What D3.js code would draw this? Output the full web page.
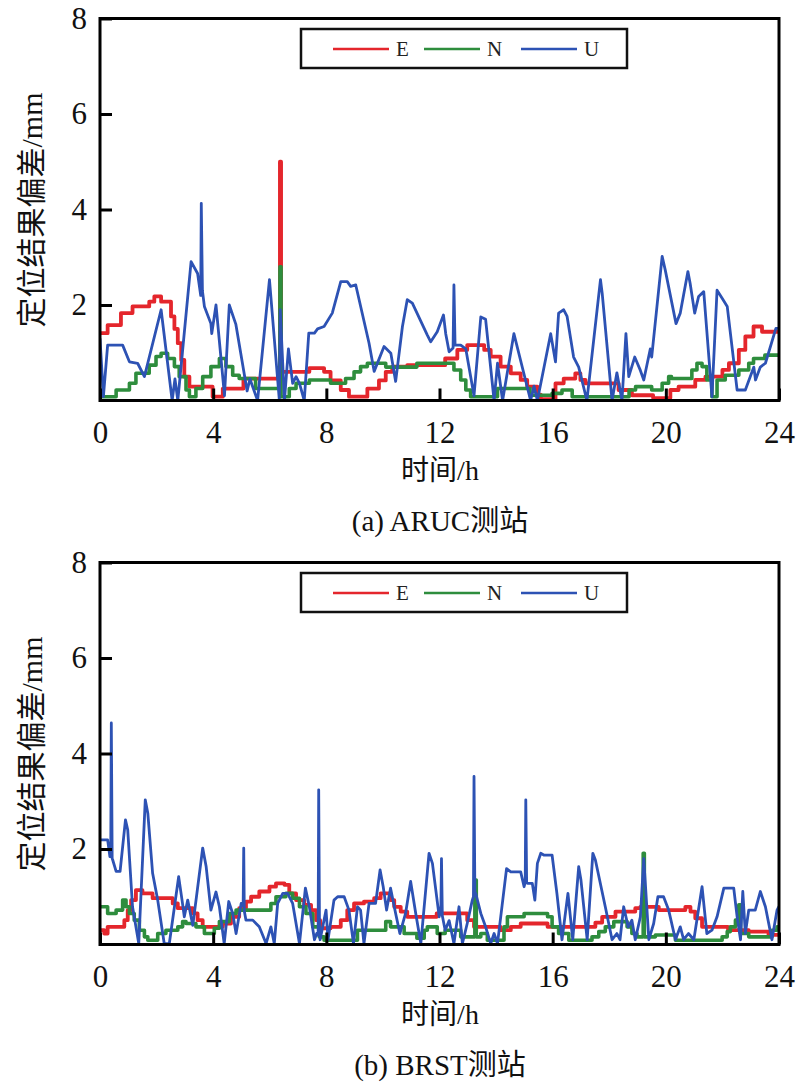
<!DOCTYPE html>
<html><head><meta charset="utf-8">
<script src="https://cdn.jsdelivr.net/npm/d3@7"></script>
<style>body{margin:0;background:#fff}svg{display:block}</style>
</head><body>
<script>
const seriesNames = ["E","N","U"];
const xTicks = [0,4,8,12,16,20,24];
const yTicks = [2,4,6,8];
const panelTitles = ["(a) ARUC测站","(b) BRST测站"];
const yTitle = "定位结果偏差/mm";
const xTitle = "时间/h";

// Panel (a) ARUC: [hour, mm]
const aE = [[0,1.41],[0.27,1.58],[0.74,1.83],[1.15,1.97],[1.74,2.07],[1.92,2.18],[2.16,2.07],[2.51,1.76],[2.63,1.5],[2.75,1.2],[2.87,0.85],[2.98,0.5],[3.16,0.29],[3.98,0.08],[4.34,0.25],[5.07,0.46],[6.36,5.0],[6.4,0.6],[7.4,0.68],[7.92,0.6],[8.15,0.42],[8.51,0.22],[8.8,0.08],[9.45,0.25],[9.86,0.42],[10.1,0.6],[10.33,0.71],[10.86,0.74],[12.2,0.88],[12.63,1.06],[12.98,1.16],[13.58,1.06],[13.81,0.92],[14.16,0.71],[14.52,0.57],[14.87,0.43],[15.1,0.29],[15.46,0.12],[15.58,0.03],[16.1,0.36],[16.39,0.46],[16.8,0.57],[16.98,0.43],[17.16,0.36],[18.33,0.22],[18.8,0.11],[19.55,0.05],[20.16,0.22],[20.45,0.29],[21.04,0.43],[21.4,0.5],[22.0,0.64],[22.23,0.78],[22.58,1.06],[22.81,1.34],[23.1,1.55],[23.4,1.44],[24,1.44]];
const aN = [[0,0.08],[0.57,0.22],[1.04,0.36],[1.27,0.57],[1.74,0.74],[1.98,0.92],[2.16,0.99],[2.39,0.88],[2.63,0.71],[2.8,0.5],[3.04,0.22],[3.16,0.08],[3.39,0.25],[3.63,0.5],[3.92,0.71],[4.22,0.88],[4.45,0.71],[4.69,0.53],[4.92,0.46],[5.5,0.25],[6.36,2.8],[6.4,0.08],[6.69,0.25],[6.93,0.36],[7.4,0.43],[8.15,0.36],[8.68,0.46],[8.98,0.6],[9.21,0.71],[9.45,0.78],[10.1,0.7],[11.2,0.78],[12.51,0.64],[12.75,0.43],[12.93,0.22],[13.1,0.08],[14.05,0.25],[15.2,0.11],[15.98,0.15],[16.33,0.22],[16.69,0.08],[18.7,0.22],[18.93,0.29],[19.5,0.22],[19.87,0.36],[20.1,0.5],[20.2,0.46],[20.92,0.64],[21.1,0.78],[21.28,0.71],[21.45,0.43],[21.63,0.08],[21.81,0.43],[22.1,0.53],[22.58,0.64],[22.93,0.78],[23.1,0.88],[23.5,0.95],[24,0.95]];
const aU = [[0,1.3],[0.12,0.08],[0.27,1.16],[0.8,1.16],[1.04,0.81],[1.33,0.78],[1.57,0.5],[2.16,1.9],[2.55,0],[2.65,0.45],[2.75,0],[3.22,2.91],[3.45,2.66],[3.56,2.2],[3.58,4.13],[3.62,2.3],[3.69,1.97],[3.92,1.61],[3.95,1.4],[4.1,2.0],[4.4,0.1],[4.57,2.0],[4.8,1.6],[5.2,0.2],[5.3,0.45],[5.57,0],[5.99,2.53],[6.34,0],[6.37,1.9],[6.52,0],[6.66,1.08],[6.81,0.36],[6.93,0.5],[7.05,0.36],[7.22,0],[7.38,1.41],[7.58,1.41],[7.69,1.5],[7.92,1.55],[8.21,1.83],[8.51,2.49],[8.74,2.49],[8.86,2.39],[9.04,2.42],[9.51,1.2],[9.69,0.61],[10.04,1.13],[10.28,0.99],[10.45,0.4],[10.69,1.55],[10.86,2.11],[11.04,2.04],[11.57,1.37],[11.69,1.23],[11.92,1.44],[12.14,1.79],[12.22,1.4],[12.34,1.02],[12.48,1.1],[12.51,2.42],[12.55,1.16],[12.75,1.16],[12.93,1.08],[13.22,0.1],[13.46,1.75],[13.63,1.7],[13.93,0],[14.05,0.78],[14.23,0],[14.63,1.4],[15.22,0],[15.34,0.3],[15.46,0],[15.93,1.4],[16.1,0.81],[16.21,1.83],[16.39,1.9],[16.51,1.76],[16.74,0.91],[16.92,0.7],[17.21,0],[17.69,2.53],[17.75,2.25],[18.1,0],[18.27,0.58],[18.45,0],[18.59,1.4],[18.69,0.5],[18.9,0.91],[19.1,0.63],[19.22,0.43],[19.45,1.08],[19.5,0.91],[19.87,3.02],[19.98,2.73],[20.36,1.61],[20.51,1.83],[20.78,2.7],[20.86,2.45],[21.02,1.83],[21.16,2.18],[21.34,2.28],[21.63,0.08],[21.81,2.31],[21.99,2.14],[22.17,1.97],[22.52,0.22],[22.81,0.22],[23.11,0.7],[23.17,0.43],[23.34,0.7],[23.52,0.78],[23.89,1.51],[24,1.51]];

// Panel (b) BRST: [hour, mm]
const bE = [[0,0.3],[0.15,0.23],[0.27,0.37],[0.86,0.51],[0.98,0.72],[1.1,0.93],[1.27,1.14],[1.5,1.07],[1.86,0.97],[2.57,0.86],[2.75,0.76],[3.28,0.65],[3.45,0.51],[3.63,0.37],[4.34,0.44],[4.63,0.58],[4.92,0.76],[5.16,0.9],[5.34,1.0],[5.63,1.11],[5.99,1.21],[6.22,1.28],[6.52,1.25],[6.69,1.07],[6.93,0.93],[7.22,0.83],[7.46,0.72],[7.64,0.51],[7.78,0.34],[8.15,0.37],[8.51,0.51],[8.74,0.72],[8.98,0.86],[9.33,0.9],[9.69,0.97],[9.92,1.07],[10.27,0.93],[10.4,0.79],[10.63,0.69],[10.86,0.58],[11.9,0.65],[12.98,0.51],[13.22,0.37],[14.16,0.3],[14.52,0.37],[14.87,0.44],[15.82,0.37],[17.51,0.46],[17.75,0.58],[18.22,0.69],[18.92,0.76],[19.1,0.79],[19.75,0.72],[20.69,0.79],[20.87,0.69],[21.04,0.55],[21.28,0.37],[22.2,0.3],[22.93,0.27],[23.63,0.2],[24,0.2]];
const bN = [[0,0.79],[0.27,0.65],[0.57,0.72],[0.8,0.93],[0.92,0.79],[1.04,0.65],[1.21,0.51],[1.39,0.3],[1.57,0.16],[1.69,0.09],[2.04,0.23],[2.33,0.3],[2.75,0.37],[2.92,0.48],[3.04,0.44],[3.39,0.37],[3.69,0.23],[4.04,0.34],[4.22,0.48],[4.57,0.65],[4.81,0.72],[6.04,0.86],[6.22,1.0],[6.57,1.07],[6.81,0.97],[7.05,0.79],[7.28,0.65],[7.52,0.37],[7.75,0.16],[7.92,0.09],[9.1,0.3],[10.1,0.48],[10.27,0.37],[10.75,0.23],[11.2,0.13],[11.46,0.3],[11.57,0.37],[11.92,0.23],[12.2,0.3],[12.75,0.16],[13.25,1.35],[13.3,0.16],[13.46,0.23],[13.69,0.09],[14.28,0.37],[14.4,0.58],[14.99,0.65],[15.82,0.58],[15.98,0.37],[16.21,0.23],[16.57,0.09],[17.39,0.16],[17.63,0.27],[17.86,0.37],[18.16,0.48],[18.63,0.37],[18.8,0.23],[18.98,0.16],[19.2,1.91],[19.24,0.16],[19.63,0.2],[20.34,0.09],[21.99,0.16],[22.17,0.27],[22.28,0.37],[22.46,0.51],[22.58,0.83],[22.64,0.23],[22.93,0.16],[23.75,0.3],[23.93,0.37],[24,0.37]];
const bU = [[0,2.19],[0.27,2.19],[0.35,1.84],[0.38,1.9],[0.4,4.64],[0.43,1.8],[0.45,1.77],[0.57,1.53],[0.71,1.53],[0.9,2.61],[0.98,2.4],[1.15,0.79],[1.37,0.02],[1.6,3.03],[1.69,2.75],[1.86,1.49],[2.04,0.93],[2.27,0.02],[2.45,0.02],[2.78,1.42],[2.9,0.93],[2.98,0.58],[3.1,0.93],[3.28,0.4],[3.63,2.02],[3.75,1.64],[3.92,0.72],[4.1,1.1],[4.22,0.79],[4.39,0.02],[4.55,0.9],[4.69,0.65],[4.81,0.23],[4.99,0.86],[5.06,0.8],[5.08,2.02],[5.1,0.7],[5.16,0.51],[5.4,0.51],[5.63,0.37],[5.87,0.02],[6.04,0.37],[6.16,0.02],[6.28,0.86],[6.46,1.07],[6.63,1.07],[6.81,0.86],[7.05,0.02],[7.26,1.18],[7.4,0.79],[7.58,0.1],[7.66,0.23],[7.71,0.2],[7.73,3.24],[7.76,0.2],[7.78,0.1],[7.99,0.72],[8.06,0.1],[8.27,0.93],[8.4,1.0],[8.63,1.0],[8.8,0.72],[8.96,0.02],[9.1,0.79],[9.21,0.72],[9.33,0.02],[9.51,0.86],[9.74,0.86],[9.9,1.56],[10.01,1.21],[10.13,0.72],[10.27,1.18],[10.45,0.65],[10.6,0.23],[10.8,0.65],[10.98,1.32],[11.16,0.65],[11.34,0.02],[11.63,1.91],[11.75,1.7],[11.99,0.58],[12.05,0.8],[12.07,1.8],[12.1,0.6],[12.2,0.3],[12.34,0.5],[12.51,0.02],[12.69,0.79],[12.81,0.02],[12.98,0.44],[13.16,0.93],[13.2,1.0],[13.22,3.52],[13.25,1.1],[13.28,1.07],[13.46,0.65],[13.63,0.37],[13.81,0.02],[13.93,0.23],[14.05,0.02],[14.37,1.59],[14.52,1.52],[14.87,1.52],[14.99,1.21],[15.03,1.3],[15.05,3.03],[15.08,1.3],[15.11,1.28],[15.28,1.28],[15.37,0.93],[15.46,1.7],[15.58,1.91],[15.7,1.87],[15.98,1.87],[16.15,1.07],[16.33,0.1],[16.54,1.07],[16.71,0.1],[16.92,1.63],[17.0,1.35],[17.22,0.1],[17.42,1.91],[17.51,1.77],[17.86,0.79],[18.1,0.1],[18.27,0.23],[18.38,0.1],[18.51,0.79],[18.67,0.37],[18.8,0.51],[18.92,0.1],[19.1,0.58],[19.22,1.8],[19.4,0.1],[19.57,0.44],[19.72,1.0],[19.92,1.0],[20.1,0.72],[20.34,0.1],[20.51,0.37],[20.63,0.1],[20.8,0.23],[20.99,0.1],[21.28,1.21],[21.45,0.23],[21.63,0.3],[21.81,0.58],[22.05,1.18],[22.4,1.18],[22.52,0.58],[22.64,0.1],[22.72,1.11],[22.81,0.23],[22.93,0.72],[23.16,0.72],[23.34,1.11],[23.52,0.79],[23.75,0.1],[23.93,0.72],[24,0.8]];

const panels = [
  {title: panelTitles[0], series: [aE, aN, aU]},
  {title: panelTitles[1], series: [bE, bN, bU]}
];
const colors = ["#e4262c", "#2e8d3d", "#2d52b4"];
const widths = [3.8, 3.6, 2.8];
const curves = [d3.curveStepAfter, d3.curveStepAfter, d3.curveLinear];

const W = 806, H = 1086;
const latin = "'Liberation Serif','Times New Roman','Noto Sans CJK SC',serif";
const svg = d3.select("body").append("svg").attr("width", W).attr("height", H);

const left = 100, right = 779, plotTop = 18.5, plotBottom = 400.5, step = 544;
const x = d3.scaleLinear().domain([0, 24]).range([left, right]);

panels.forEach((p, i) => {
  const off = i * step;
  const y = d3.scaleLinear().domain([0, 8]).range([plotBottom + off, plotTop + off]);
  const g = svg.append("g");

  const clipId = "clip" + i;
  svg.append("clipPath").attr("id", clipId).append("rect")
    .attr("x", left).attr("y", plotTop + off - 2).attr("width", right - left).attr("height", plotBottom - plotTop + 2);

  p.series.forEach((data, k) => {
    const line = d3.line().x(d => x(d[0])).y(d => y(d[1])).curve(curves[k]);
    g.append("path").datum(data)
      .attr("clip-path", `url(#${clipId})`)
      .attr("fill", "none").attr("stroke", colors[k]).attr("stroke-width", widths[k])
      .attr("stroke-linejoin", "round")
      .attr("d", line);
  });

  const xa = g.append("g").attr("transform", `translate(0,${plotBottom + off})`)
    .call(d3.axisBottom(x).tickValues(xTicks).tickSize(-12).tickPadding(20).tickFormat(d3.format("d")));
  const ya = g.append("g").attr("transform", `translate(${left},0)`)
    .call(d3.axisLeft(y).tickValues(yTicks).tickSize(-12).tickPadding(13).tickFormat(d3.format("d")));
  [xa, ya].forEach(a => {
    a.select(".domain").remove();
    a.selectAll(".tick line").attr("stroke", "#000").attr("stroke-width", 3);
    a.selectAll(".tick text").attr("fill", "#111").style("font-family", latin).style("font-size", "31px");
  });

  g.append("rect").attr("x", left).attr("y", plotTop + off)
    .attr("width", right - left).attr("height", plotBottom - plotTop)
    .attr("fill", "none").attr("stroke", "#000").attr("stroke-width", 3);

  const lg = g.append("g").attr("transform", `translate(301,${29 + off})`);
  lg.append("rect").attr("width", 326).attr("height", 39).attr("fill", "#fff").attr("stroke", "#111").attr("stroke-width", 2.5);
  const lx = [32, 123, 220];
  seriesNames.forEach((n, k) => {
    lg.append("line").attr("x1", lx[k]).attr("x2", lx[k] + 56).attr("y1", 20).attr("y2", 20)
      .attr("stroke", colors[k]).attr("stroke-width", 2.6);
    lg.append("text").attr("x", lx[k] + 63).attr("y", 27).text(n)
      .style("font-family", latin).style("font-size", "21px").attr("fill", "#222");
  });

  g.append("text").attr("transform", `translate(42,${210 + off}) rotate(-90)`)
    .attr("text-anchor", "middle").text(yTitle)
    .style("font-family", latin).style("font-size", "30px").attr("fill", "#111");
  g.append("text").attr("x", 440).attr("y", 480 + off).attr("text-anchor", "middle").text(xTitle)
    .style("font-family", latin).style("font-size", "28px").attr("fill", "#111");
  g.append("text").attr("x", 440).attr("y", 531 + off).attr("text-anchor", "middle").text(p.title)
    .style("font-family", latin).style("font-size", "29px").attr("fill", "#111");
});
</script>
</body></html>
